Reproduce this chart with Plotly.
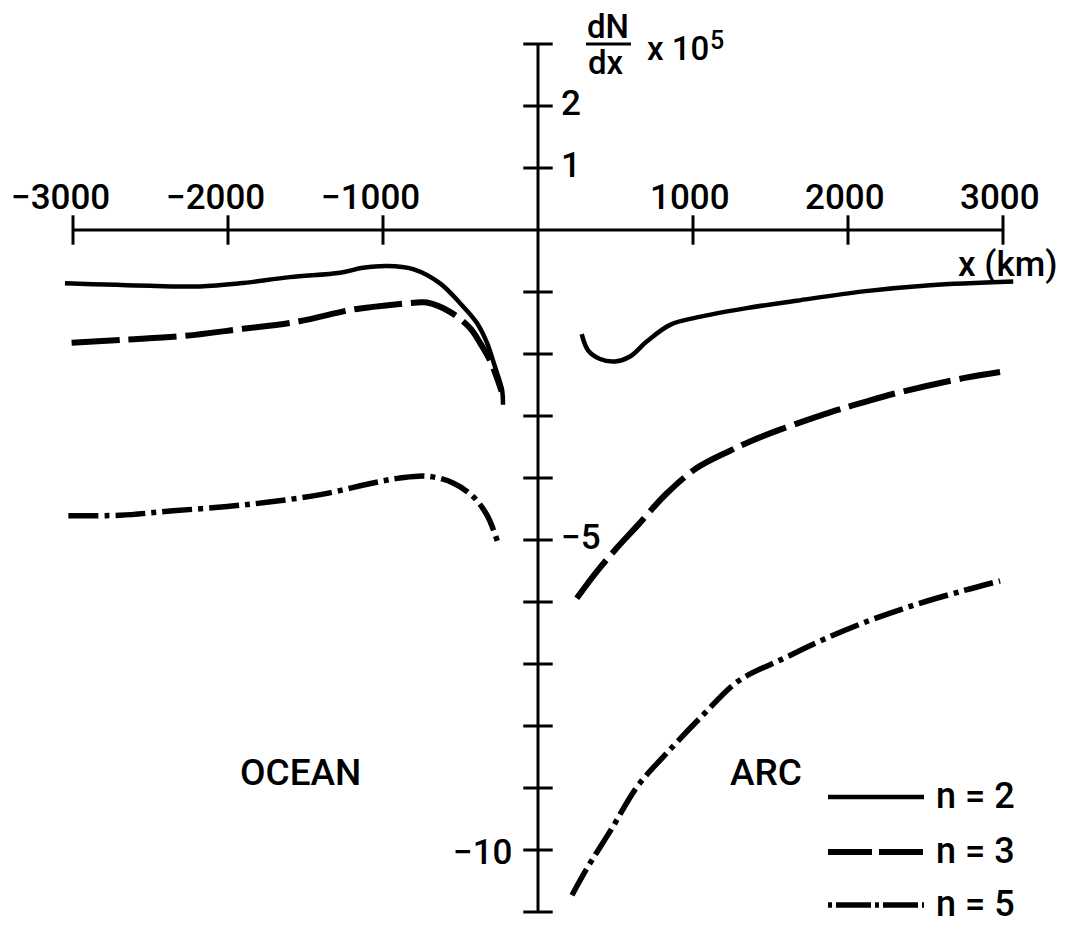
import plotly.graph_objects as go

# ---------------- data ----------------
n2_left_x = [-3052, -2503, -2181, -1923, -1600, -1277, -1129, -974, -806, -632, -503, -394, -329, -277, -232, -226]
n2_left_y = [-0.86, -0.90, -0.91, -0.86, -0.76, -0.69, -0.61, -0.58, -0.63, -0.86, -1.18, -1.50, -1.82, -2.21, -2.58, -2.82]
n2_right_x = [282, 323, 400, 497, 594, 701, 852, 1024, 1346, 1669, 2099, 2529, 3066]
n2_right_y = [-1.68, -1.94, -2.08, -2.12, -2.04, -1.80, -1.53, -1.41, -1.26, -1.14, -0.99, -0.89, -0.83]

n3_left_x = [-3009, -2677, -2290, -1923, -1555, -1213, -1065, -781, -716, -568, -439, -374, -310, -235]
n3_left_y = [-1.82, -1.77, -1.71, -1.60, -1.48, -1.29, -1.24, -1.17, -1.17, -1.32, -1.58, -1.82, -2.10, -2.60]
n3_right_x = [250, 379, 508, 637, 830, 1024, 1239, 1368, 1561, 1884, 2099, 2314, 2744, 2981]
n3_right_y = [-5.94, -5.51, -5.13, -4.78, -4.25, -3.84, -3.56, -3.41, -3.22, -2.94, -2.78, -2.63, -2.39, -2.29]

n5_left_x = [-3030, -2697, -2355, -2006, -1710, -1387, -1065, -890, -716, -548, -419, -329, -258]
n5_left_y = [-4.61, -4.60, -4.53, -4.46, -4.38, -4.26, -4.08, -4.00, -3.97, -4.08, -4.30, -4.60, -5.05]
n5_right_x = [219, 310, 477, 639, 826, 1058, 1290, 1594, 1845, 2148, 2452, 2755, 2981]
n5_right_y = [-10.73, -10.32, -9.65, -8.98, -8.45, -7.84, -7.28, -6.90, -6.60, -6.29, -6.03, -5.81, -5.66]

x_ticks = [-3000, -2000, -1000, 1000, 2000, 3000]
x_tick_labels = ["\u22123000", "\u22122000", "\u22121000", "1000", "2000", "3000"]
y_ticks = [3, 2, 1, -1, -2, -3, -4, -5, -6, -7, -8, -9, -10, -11]
y_labels_right = {2: "2", 1: "1", -5: "\u22125"}
y_labels_left = {-10: "\u221210"}

series_names = ["n = 2", "n = 3", "n = 5"]

# ---------------- styling ----------------
FONT = "Roboto, Liberation Sans, Arial, sans-serif"
WEIGHT = 500
W, H = 1065, 925
X0_PX, X_SCALE = 538, 0.155      # pixel of x=0, px per km
Y0_PX, Y_SCALE = 230, 62.0       # pixel of y=0, px per unit
x_range = [(0 - X0_PX) / X_SCALE, (W - X0_PX) / X_SCALE]
y_range = [(Y0_PX - H) / Y_SCALE, (Y0_PX - 0) / Y_SCALE]

styles = {
    "n = 2": dict(color="black", width=4.5, dash="solid"),
    "n = 3": dict(color="black", width=6, dash="48px,9px"),
    "n = 5": dict(color="black", width=5.5, dash="30px,6px,5px,6px"),
}

fig = go.Figure()

def add_curve(xs, ys, name):
    fig.add_trace(go.Scatter(x=xs, y=ys, mode="lines", name=name, showlegend=False,
                             line=dict(shape="spline", smoothing=1.0, **styles[name]),
                             hoverinfo="skip"))

add_curve(n2_left_x, n2_left_y, "n = 2")
add_curve(n2_right_x, n2_right_y, "n = 2")
add_curve(n3_left_x, n3_left_y, "n = 3")
add_curve(n3_right_x, n3_right_y, "n = 3")
add_curve(n5_left_x, n5_left_y, "n = 5")
add_curve(n5_right_x, n5_right_y, "n = 5")

# axis lines (drawn in data coordinates)
fig.add_shape(type="line", xref="x", yref="y", x0=x_ticks[0], x1=x_ticks[-1], y0=0, y1=0,
              line=dict(color="black", width=3))
fig.add_shape(type="line", xref="x", yref="y", x0=0, x1=0, y0=min(y_ticks), y1=max(y_ticks),
              line=dict(color="black", width=3))

# crossing ticks
fig.add_trace(go.Scatter(x=x_ticks, y=[0] * len(x_ticks), mode="markers", showlegend=False,
                         hoverinfo="skip",
                         marker=dict(symbol="line-ns", size=21, line=dict(color="black", width=3))))
fig.add_trace(go.Scatter(x=[0] * len(y_ticks), y=y_ticks, mode="markers", showlegend=False,
                         hoverinfo="skip",
                         marker=dict(symbol="line-ew", size=21, line=dict(color="black", width=3))))

ann = []
TICK_SIZE = 35

def tfont(size):
    return dict(family=FONT, size=size, color="black", weight=WEIGHT)

for xv, lab in zip(x_ticks, x_tick_labels):
    ann.append(dict(x=xv, y=0, xref="x", yref="y", text=lab, showarrow=False,
                    xanchor="right", yanchor="middle", xshift=39, yshift=33,
                    font=tfont(TICK_SIZE)))
for yv, lab in y_labels_right.items():
    ann.append(dict(x=0, y=yv, xref="x", yref="y", text=lab, showarrow=False,
                    xanchor="left", yanchor="middle", xshift=21, yshift=3,
                    font=tfont(TICK_SIZE)))
for yv, lab in y_labels_left.items():
    ann.append(dict(x=0, y=yv, xref="x", yref="y", text=lab, showarrow=False,
                    xanchor="right", yanchor="middle", xshift=-24, yshift=-2,
                    font=tfont(TICK_SIZE)))

def P(xp, yp):
    return xp / W, 1 - yp / H

def text_px(xp, yp, txt, size, xanchor="center", yanchor="middle"):
    px_, py_ = P(xp, yp)
    ann.append(dict(x=px_, y=py_, xref="paper", yref="paper", text=txt, showarrow=False,
                    xanchor=xanchor, yanchor=yanchor, borderpad=0, font=tfont(size)))

# y-axis title: dN/dx x 10^5
text_px(608, 26, "dN", 33)
text_px(606, 63, "dx", 33)
fx0, fy0 = P(586, 44)
fx1, _ = P(631, 44)
fig.add_shape(type="line", xref="paper", yref="paper", x0=fx0, x1=fx1, y0=fy0, y1=fy0,
              line=dict(color="black", width=3))
text_px(646, 48, "x 10", 33, xanchor="left")
text_px(709, 40, "5", 25, xanchor="left")

# x-axis title
text_px(957, 264, "x (km)", 35, xanchor="left")

# region labels
text_px(300, 772, "OCEAN", 37)
text_px(766, 772, "ARC", 37)

# legend (manual)
legend_rows = [797, 852, 905]
legend_dash = {"n = 2": "solid", "n = 3": "44px,7px", "n = 5": "4px,4px,35px,4px"}
for name, yp in zip(series_names, legend_rows):
    st = styles[name]
    lx0, ly = P(828, yp)
    lx1, _ = P(924, yp)
    fig.add_shape(type="line", xref="paper", yref="paper", x0=lx0, x1=lx1, y0=ly, y1=ly,
                  line=dict(color="black", width=st["width"], dash=legend_dash[name]))
    text_px(935, yp - 1, name, 36, xanchor="left")

fig.update_layout(
    width=W, height=H, autosize=False,
    margin=dict(l=0, r=0, t=0, b=0, pad=0),
    paper_bgcolor="white", plot_bgcolor="white",
    xaxis=dict(range=x_range, visible=False, fixedrange=True),
    yaxis=dict(range=y_range, visible=False, fixedrange=True),
    annotations=ann,
    showlegend=False,
    hovermode=False,
)

fig.write_html("out.html",
               config={"displayModeBar": False, "staticPlot": True},
               post_script="document.body.style.margin='0';document.body.style.overflow='hidden';")
